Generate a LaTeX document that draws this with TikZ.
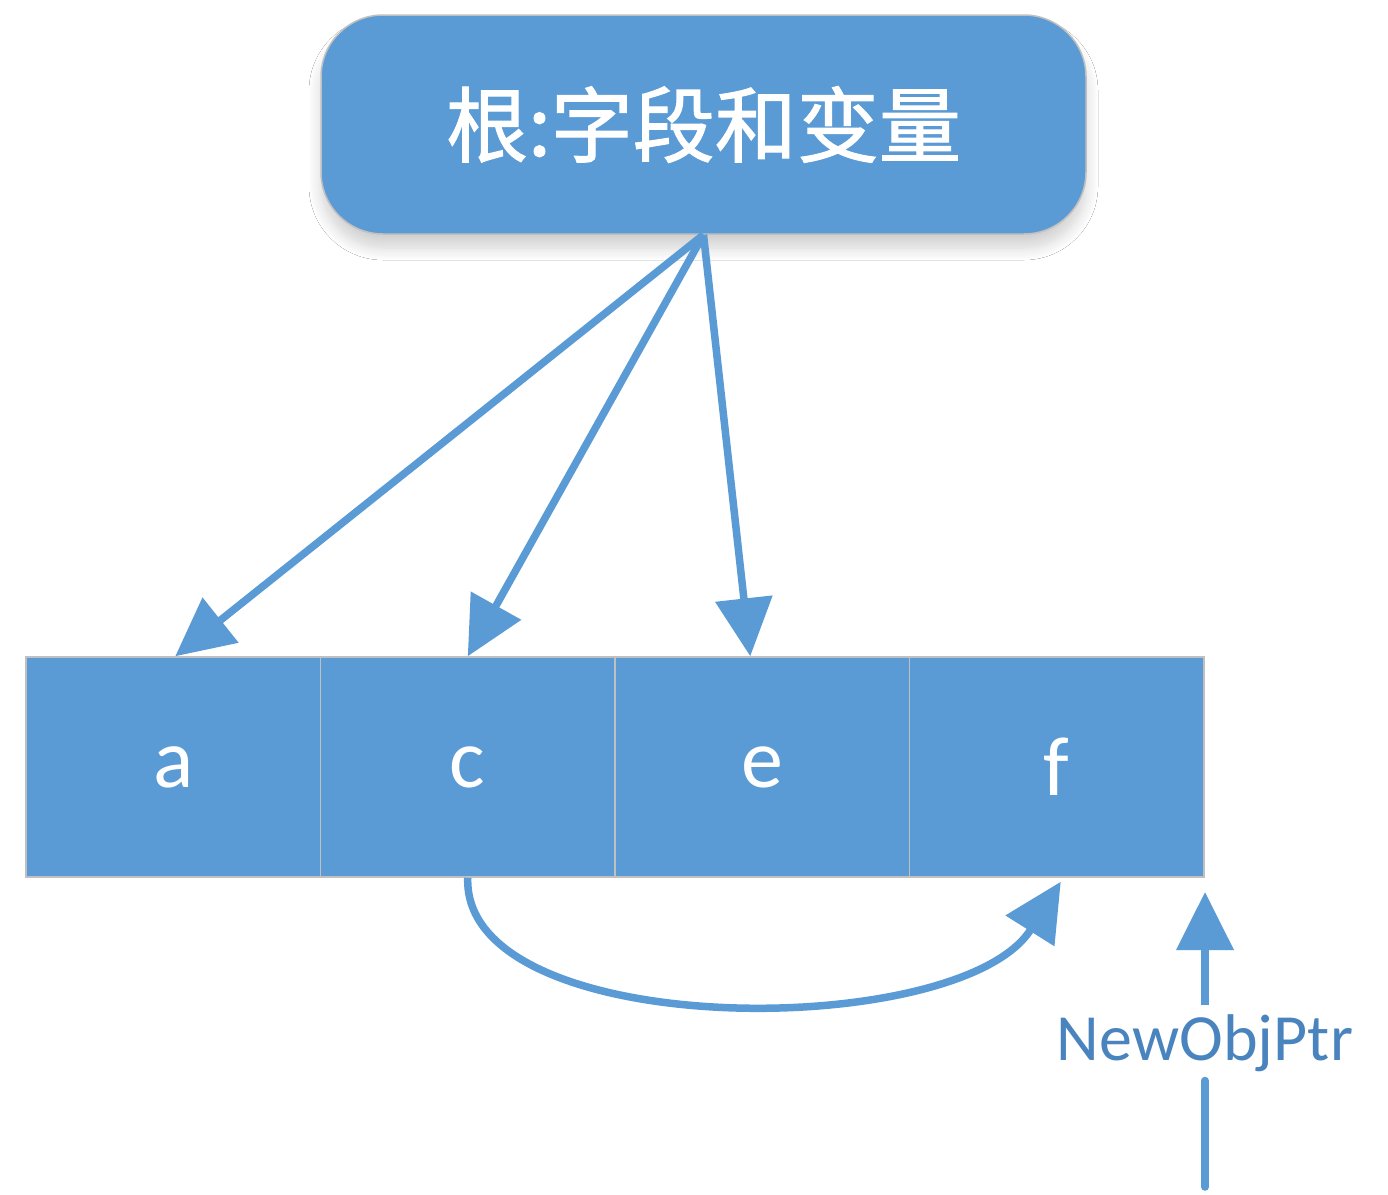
\documentclass[tikz,border=0pt]{standalone}
\usepackage{fontspec}
\setmainfont{Carlito}
\newfontfamily\cjk[FakeBold=1.3]{Noto Sans CJK SC}
\usetikzlibrary{arrows.meta,shadows.blur}
\definecolor{boxblue}{HTML}{5B9BD5}
\definecolor{edgegray}{HTML}{C0C0C0}
\definecolor{labelblue}{HTML}{4A84BE}
\begin{document}
\begin{tikzpicture}[x=1pt,y=-1pt,
  boxshadow/.style={blur shadow={shadow xshift=0pt,shadow yshift=-14pt,shadow blur radius=12pt,shadow opacity=18,shadow blur steps=12}},
  rootbox/.style={draw=edgegray,line width=1.5pt,fill=boxblue,rounded corners=62pt,minimum width=765pt,minimum height=219pt,text=white,font=\cjk\fontsize{82}{90}\selectfont,inner sep=0pt},
  cell/.style={draw=edgegray,line width=1.5pt,fill=boxblue,minimum width=294.5pt,minimum height=220pt,text=white,font=\fontsize{84}{90}\selectfont,inner sep=0pt},
  arr/.style={draw=boxblue,line width=7.5pt,-{Triangle[length=58pt,width=56pt]}},
  plainline/.style={draw=boxblue,line width=7.5pt,line cap=round},
  ptrlabel/.style={text=labelblue,font=\fontsize{66}{70}\selectfont,inner xsep=0pt,inner ysep=9pt}
]
\useasboundingbox (0,0) rectangle (1388,1194);
\fill[white] (0,0) rectangle (1388,1194);

\node[rootbox,boxshadow] (root) at (703.5,124.5) {根:字段和变量};

\begin{scope}[boxshadow]
\fill[boxblue] (26,657) rectangle (1204,877);
\end{scope}
\node[cell] (a) at (173.25,767) {a};
\node[cell] (c) at (467.75,767) {c};
\node[cell] (e) at (762.25,767) {e};
\node[cell] (f) at (1056.75,767) {f};

\draw[arr] (root.south) -- ([xshift=2pt]a.north);
\draw[arr] (root.south) -- (c.north);
\draw[arr] (root.south) -- ([xshift=-12pt]e.north);

\draw[arr] (c.south) .. controls (462,1042) and (960,1042) .. ([xshift=4pt,yshift=-4pt]f.south);

\node[ptrlabel,anchor=base] (ptr) at (1205,1060) {NewObjPtr};
\coordinate (ptrtip) at (1205,892);
\coordinate (ptrbot) at (1205,1187);
\draw[arr] (ptr.north) -- (ptrtip);
\draw[plainline] (ptrbot) -- (ptr.south);
\end{tikzpicture}
\end{document}
